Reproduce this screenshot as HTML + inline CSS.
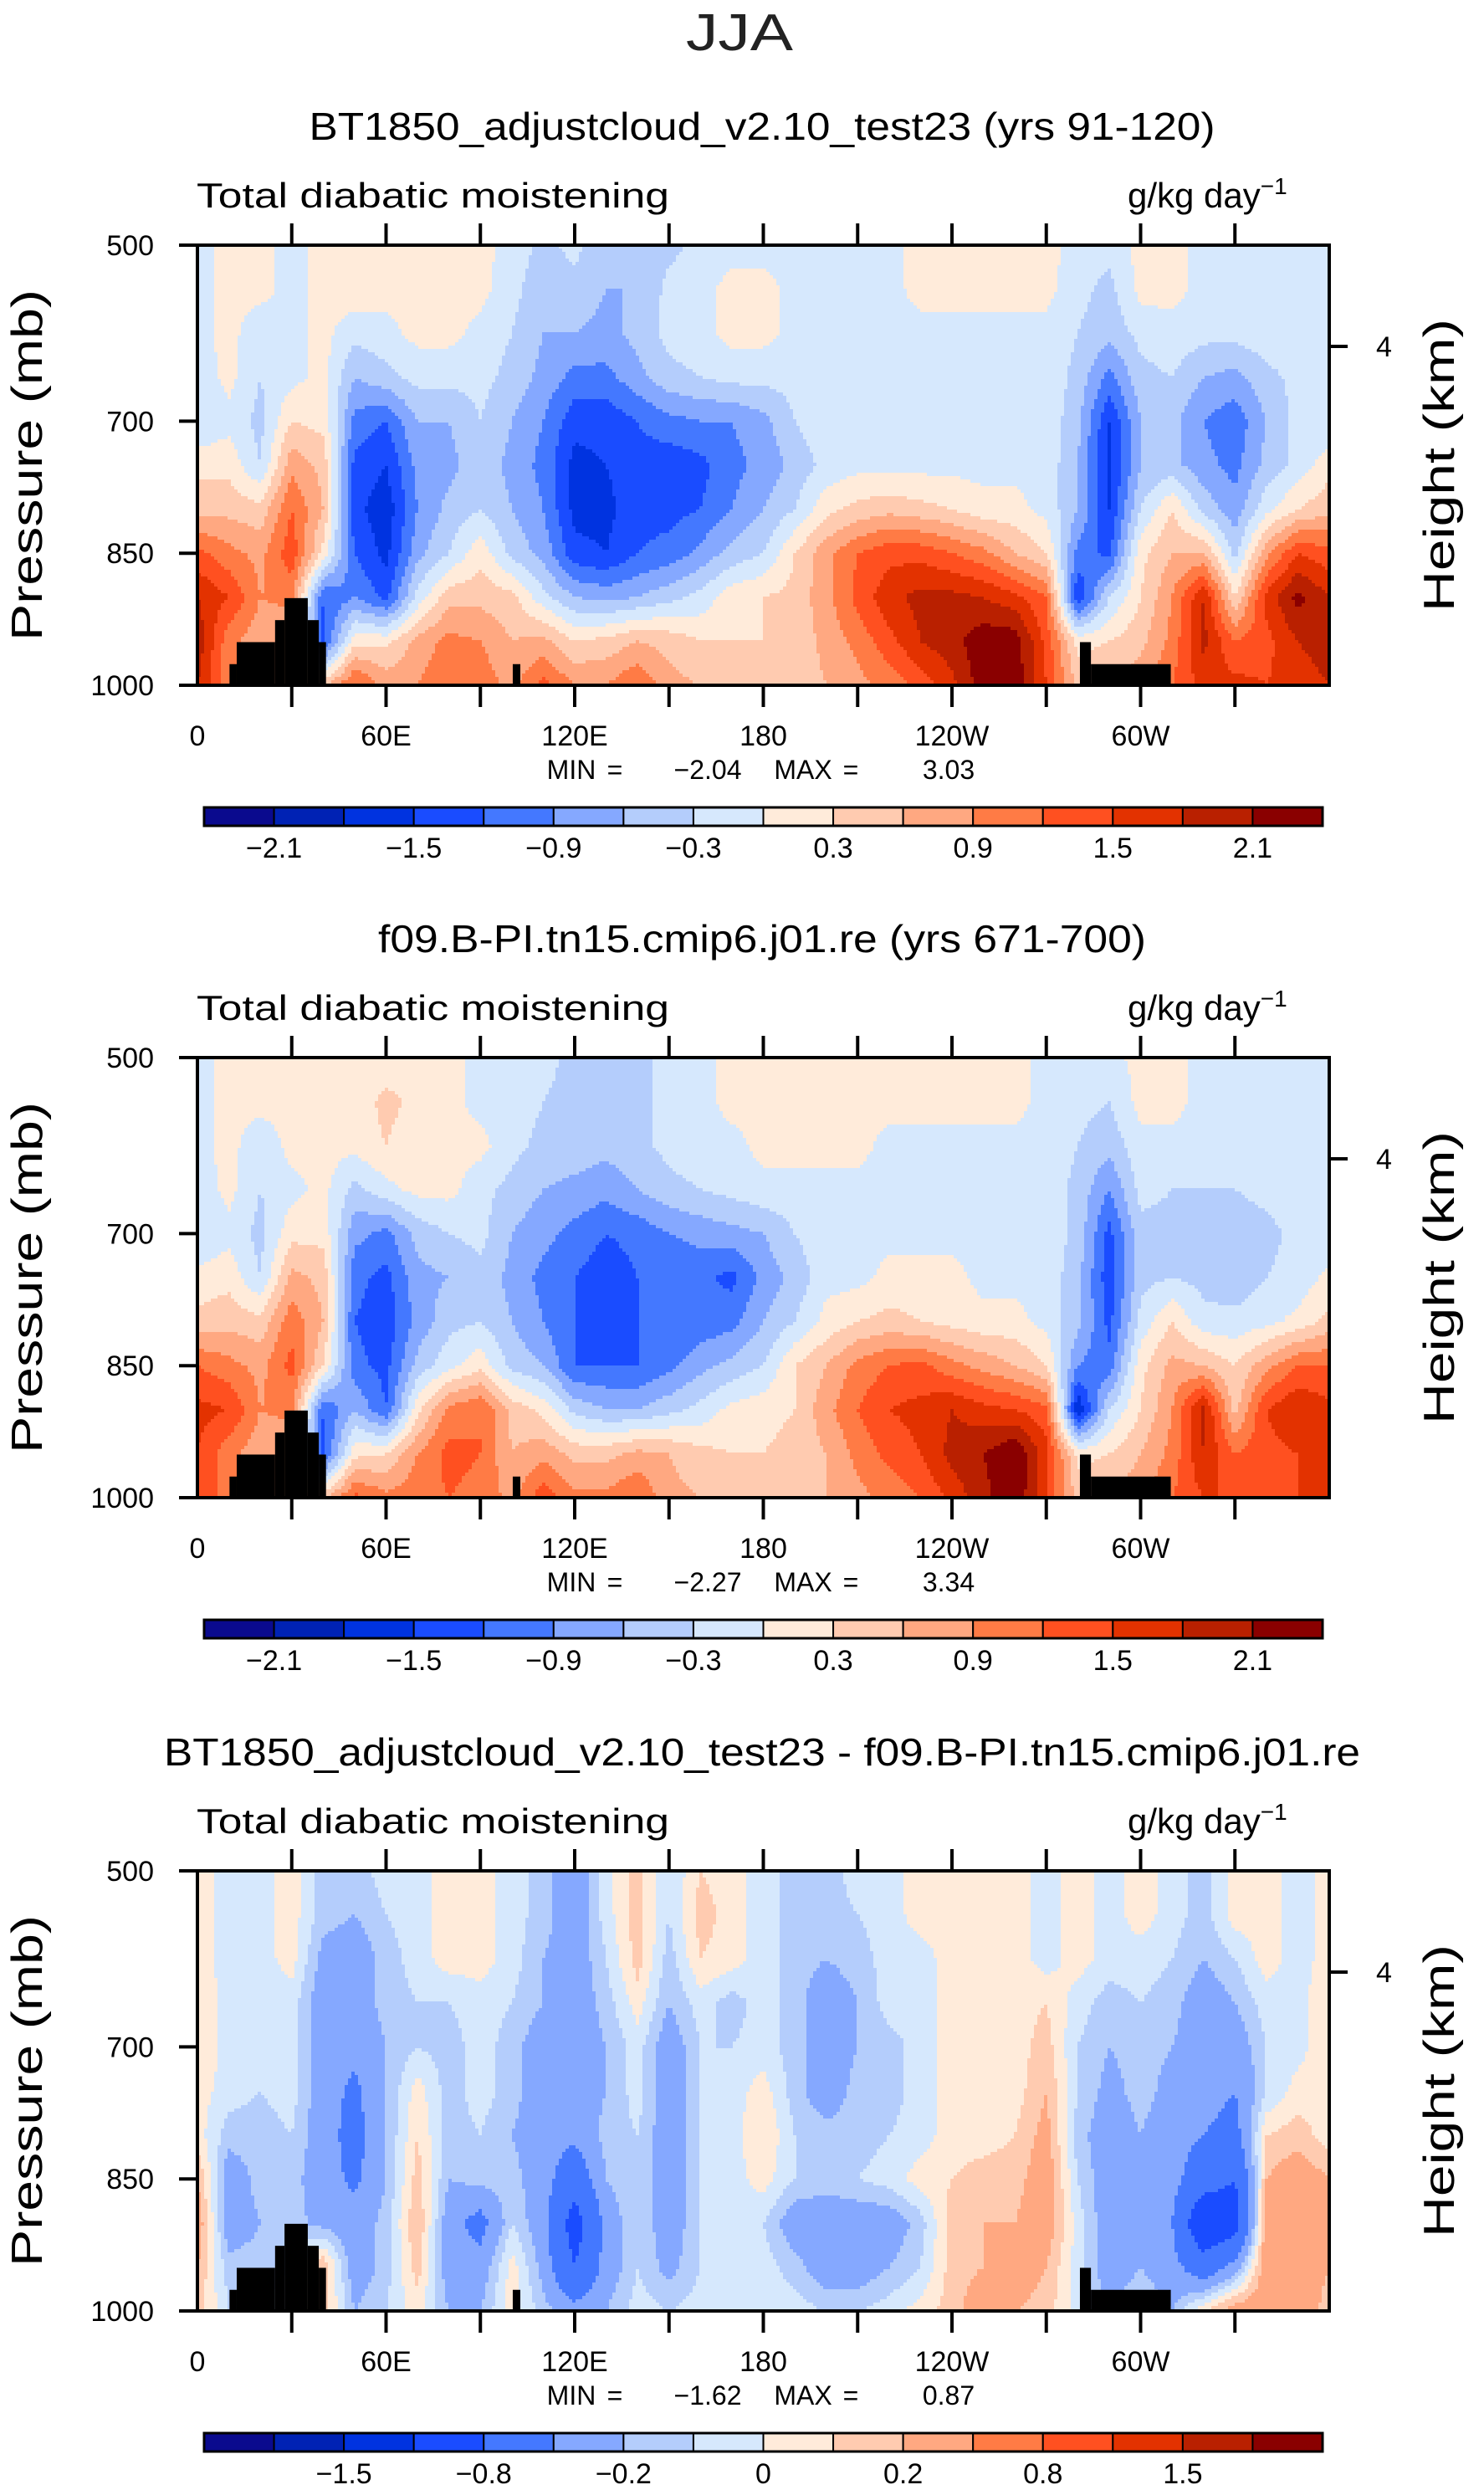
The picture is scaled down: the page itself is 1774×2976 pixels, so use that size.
<!DOCTYPE html>
<html><head><meta charset="utf-8"><style>
html,body{margin:0;padding:0;background:#fff;}
svg{display:block;font-family:"Liberation Sans",sans-serif;}
</style></head><body>
<svg id="chart" width="1774" height="2976" viewBox="0 0 1774 2976" xmlns="http://www.w3.org/2000/svg">
<text x="884" y="60" font-size="62" text-anchor="middle" fill="#222" font-weight="normal" textLength="128" lengthAdjust="spacingAndGlyphs">JJA</text>
</svg>
<script>
// ---- data ----
const lons = [0,10,20,30,40,50,60,70,80,90,100,110,120,130,140,150,160,170,180,190,200,210,220,230,240,250,260,270,280,290,300,310,320,330,340,350];
const pressures = [500,550,600,650,700,750,800,850,900,950,1000];
const titles = ["BT1850_adjustcloud_v2.10_test23 (yrs 91-120)","f09.B-PI.tn15.cmip6.j01.re (yrs 671-700)","BT1850_adjustcloud_v2.10_test23 - f09.B-PI.tn15.cmip6.j01.re"];
const minVals = ["\u22122.04","\u22122.27","\u22121.62"];
const maxVals = ["3.03","3.34","0.87"];
const levelsAbs = [-2.1,-1.8,-1.5,-1.2,-0.9,-0.6,-0.3,0,0.3,0.6,0.9,1.2,1.5,1.8,2.1];
const levelsDiff = [-2,-1.5,-1.2,-0.8,-0.4,-0.2,-0.1,0,0.1,0.2,0.4,0.8,1.2,1.5,2];
const cbLabelsAbs = ["\u22122.1","\u22121.5","\u22120.9","\u22120.3","0.3","0.9","1.5","2.1"];
const cbLabelIdxAbs = [1,3,5,7,9,11,13,15];
const cbLabelsDiff = ["\u22121.5","\u22120.8","\u22120.2","0","0.2","0.8","1.5"];
const cbLabelIdxDiff = [2,4,6,8,10,12,14];
const palette = ["#0a0a8e","#0022b4","#0033e0","#1a4cff","#4478ff","#85a8ff","#b4cdfc","#d6e8fd","#ffebda","#ffcbb0","#ffa881","#ff7b45","#ff5020","#e33200","#b92000","#8a0000"];
const xTickLabels = ["0","60E","120E","180","120W","60W"];
const xTickLons = [0,60,120,180,240,300];
const yTickLabels = ["500","700","850","1000"];
const yTickP = [500,700,850,1000];
const topoLon0 = [10.2,12.5,24.7,27.7,35.1,38.6,100.3,280.7,284.2];
const topoLon1 = [12.5,24.7,27.7,35.1,38.6,40.9,102.7,284.2,309.6];
const topoP = [976,951,926,901,926,951,976,951,976];

const field1 = [
[-0.1,0.1,0.1,-0.1,0.1,0.1,0.1,0.1,0.1,0.1,-0.1,-0.4,-0.2,-0.6,-0.5,-0.4,-0.2,-0.1,-0.1,-0.1,-0.1,-0.1,-0.1,0.1,0.1,0.1,0.1,0.1,-0.1,-0.2,0.1,0.1,-0.1,-0.1,-0.1,-0.1],
[-0.1,0.1,0.1,-0.1,0.1,0.2,0.1,0.1,0.1,0.1,-0.2,-0.5,-0.4,-0.6,-0.6,-0.2,-0.1,0.1,0.1,-0.1,-0.1,-0.1,-0.1,0.1,0.1,0.1,0.1,0.1,-0.2,-0.4,0.1,0.1,-0.1,-0.1,-0.1,-0.1],
[-0.1,0.1,-0.2,-0.1,0.1,-0.2,-0.1,0.1,0.1,-0.1,-0.3,-0.6,-0.6,-0.7,-0.5,-0.2,-0.1,0.1,0.1,-0.1,-0.1,-0.1,-0.1,-0.1,-0.1,-0.1,-0.1,-0.1,-0.3,-0.5,-0.2,-0.1,-0.2,-0.2,-0.1,-0.1],
[-0.2,0.1,-0.3,-0.1,0.1,-0.6,-0.4,-0.2,-0.2,-0.2,-0.4,-0.7,-1.0,-1.0,-0.7,-0.4,-0.3,-0.2,-0.2,-0.2,-0.1,-0.1,-0.1,-0.1,-0.1,-0.1,-0.1,-0.1,-0.4,-1.0,-0.4,-0.3,-0.6,-0.7,-0.4,-0.2],
[-0.3,-0.1,-0.4,0.3,0.2,-1.0,-1.2,-0.6,-0.6,-0.3,-0.6,-0.9,-1.4,-1.4,-1.2,-1.0,-0.9,-0.9,-0.7,-0.3,-0.1,-0.1,-0.1,-0.1,-0.1,-0.1,-0.1,-0.1,-0.5,-1.5,-0.6,-0.5,-0.9,-1.1,-0.6,-0.2],
[0.2,0.2,-0.3,0.8,0.5,-1.3,-1.5,-0.8,-0.7,-0.4,-0.7,-1.0,-1.6,-1.5,-1.3,-1.4,-1.3,-1.0,-0.8,-0.5,-0.2,-0.1,-0.1,-0.1,-0.1,-0.1,-0.1,-0.1,-0.6,-1.6,-0.6,-0.5,-0.8,-1.0,-0.5,-0.2],
[0.5,0.5,0.4,1.2,0.6,-1.4,-1.7,-0.9,-0.5,-0.3,-0.6,-0.9,-1.6,-1.6,-1.3,-1.3,-1.2,-0.9,-0.6,-0.3,0.2,0.4,0.5,0.4,0.3,0.1,0.1,-0.1,-0.6,-1.5,-0.3,0.3,-0.4,-0.8,-0.1,0.3],
[1.3,1.0,0.8,1.4,0.2,-1.2,-1.6,-0.7,-0.3,0.2,-0.4,-0.7,-1.4,-1.5,-1.2,-1.1,-0.8,-0.5,-0.3,0.3,0.8,1.2,1.4,1.4,1.2,1.0,0.6,0.3,-1.0,-1.3,0.2,0.6,0.6,-0.4,0.8,1.5],
[1.8,1.5,0.9,1.0,-1.2,-0.9,-1.3,-0.2,0.5,0.5,0.4,-0.2,-0.6,-0.7,-0.6,-0.4,-0.2,0.2,0.3,0.4,0.8,1.3,1.7,1.9,1.9,1.8,1.6,1.2,-1.5,-0.3,0.3,0.9,1.8,0.3,1.6,2.2],
[2.0,1.0,0.7,0.6,-1.3,0.2,0.2,0.7,1.0,0.9,0.6,0.7,0.3,0.4,0.6,0.5,0.3,0.3,0.3,0.4,0.7,1.0,1.4,1.8,2.0,2.3,2.3,1.4,0.2,0.3,0.5,1.0,1.9,1.2,1.4,1.8],
[1.8,1.0,0.9,0.9,0.5,1.3,0.8,0.9,1.2,1.1,0.8,1.3,0.9,0.9,1.2,0.7,0.6,0.5,0.4,0.4,0.6,0.8,1.0,1.3,1.7,2.3,2.3,1.5,0.5,0.6,0.8,1.2,1.6,1.6,1.5,1.6]];
const field2 = [
[-0.1,0.1,0.1,0.1,0.1,0.1,0.1,0.1,0.1,-0.1,-0.1,-0.2,-0.4,-0.5,-0.4,-0.2,-0.1,0.1,0.1,0.1,0.1,0.1,0.1,0.1,0.1,0.1,0.1,-0.1,-0.2,-0.1,0.1,0.1,-0.1,-0.1,-0.1,-0.1],
[-0.1,0.1,0.1,0.1,0.1,0.1,0.4,0.2,0.1,-0.1,-0.1,-0.3,-0.4,-0.6,-0.4,-0.2,-0.1,0.1,0.1,0.1,0.1,0.1,0.1,0.1,0.1,0.1,0.1,-0.1,-0.2,-0.3,0.1,0.1,-0.1,-0.1,-0.1,-0.1],
[-0.1,0.1,-0.2,0.1,0.1,0.1,0.3,0.1,0.1,0.1,-0.2,-0.4,-0.4,-0.5,-0.4,-0.2,-0.1,-0.1,0.1,0.1,0.1,0.1,-0.1,-0.1,-0.1,-0.1,-0.1,-0.1,-0.3,-0.5,-0.1,-0.1,-0.1,-0.1,-0.1,-0.1],
[-0.2,0.1,-0.3,-0.1,0.1,-0.4,-0.1,0.1,0.1,-0.2,-0.4,-0.6,-0.7,-0.8,-0.6,-0.4,-0.3,-0.2,-0.1,-0.1,-0.1,-0.1,-0.1,-0.1,-0.1,-0.1,-0.1,-0.1,-0.4,-0.9,-0.2,-0.3,-0.3,-0.3,-0.2,-0.1],
[-0.3,-0.1,-0.4,0.2,0.2,-0.8,-1.0,-0.5,-0.3,-0.2,-0.6,-0.8,-1.0,-1.2,-1.1,-0.9,-0.8,-0.7,-0.6,-0.3,-0.1,-0.1,-0.1,-0.1,-0.1,-0.1,-0.1,-0.1,-0.4,-1.3,-0.4,-0.4,-0.4,-0.5,-0.4,-0.2],
[0.1,0.2,-0.3,0.7,0.5,-1.1,-1.3,-0.7,-0.6,-0.4,-0.7,-1.0,-1.2,-1.4,-1.2,-1.2,-1.1,-1.3,-0.8,-0.5,-0.1,-0.1,0.1,0.1,0.1,-0.1,-0.1,-0.1,-0.5,-1.4,-0.4,-0.3,-0.4,-0.5,-0.3,-0.2],
[0.4,0.5,0.4,1.1,0.6,-1.2,-1.4,-0.8,-0.4,-0.3,-0.6,-0.9,-1.2,-1.4,-1.2,-1.2,-1.1,-1.0,-0.6,-0.3,0.1,0.3,0.4,0.3,0.2,0.1,0.1,-0.1,-0.5,-1.3,-0.2,0.3,-0.2,-0.2,-0.1,0.1],
[1.2,1.0,0.8,1.3,0.3,-1.1,-1.3,-0.5,-0.1,0.2,-0.4,-0.6,-1.2,-1.2,-1.2,-1.0,-0.7,-0.5,-0.3,0.3,0.6,1.0,1.2,1.3,1.0,0.8,0.6,0.3,-0.9,-1.1,0.2,0.7,0.6,0.3,0.8,1.2],
[1.6,1.5,0.9,1.0,-1.2,-0.6,-1.2,0.2,1.0,1.2,0.5,0.2,-0.4,-0.6,-0.6,-0.4,-0.2,0.1,0.2,0.3,0.8,1.2,1.5,1.6,1.8,1.6,1.5,1.3,-1.8,-0.3,0.3,0.9,1.9,0.5,1.5,1.8],
[1.5,1.0,0.7,0.6,-1.3,0.2,0.3,0.9,1.3,1.2,0.6,0.8,0.5,0.5,0.7,0.6,0.4,0.3,0.3,0.4,0.6,1.0,1.3,1.5,1.9,2.1,2.4,1.6,0.2,0.3,0.6,1.0,1.8,1.2,1.4,1.5],
[1.5,1.0,0.9,0.9,0.5,1.3,1.0,1.1,1.2,1.1,0.8,1.4,1.0,1.0,1.2,0.7,0.6,0.5,0.4,0.4,0.6,0.8,1.0,1.2,1.6,2.0,2.4,1.5,0.5,0.6,0.8,1.2,1.5,1.5,1.5,1.5]];
const field3 = [
[0.05,-0.05,-0.05,0.05,-0.15,-0.15,-0.05,-0.05,0.05,0.05,-0.05,-0.15,-0.3,-0.05,0.15,-0.1,0.1,0.05,-0.05,-0.15,-0.15,-0.05,-0.05,0.05,0.05,0.05,0.05,-0.05,0.05,-0.05,0.05,-0.05,-0.15,0.05,0.05,-0.05],
[0.05,-0.05,-0.05,0.05,-0.15,-0.2,-0.1,-0.05,0.05,0.05,-0.05,-0.15,-0.3,-0.05,0.15,-0.1,0.15,0.05,-0.05,-0.15,-0.15,-0.1,-0.05,0.05,0.05,0.05,0.05,-0.05,0.05,-0.05,0.05,-0.05,-0.15,0.05,0.05,-0.05],
[0.05,-0.05,-0.05,0.05,-0.25,-0.3,-0.15,-0.05,0.05,0.05,-0.05,-0.2,-0.3,-0.1,0.15,-0.15,0.1,0.05,-0.05,-0.15,-0.2,-0.15,-0.05,-0.05,0.05,0.05,0.05,-0.05,0.05,-0.05,-0.05,-0.1,-0.2,-0.1,0.05,-0.05],
[0.1,-0.05,-0.1,-0.05,-0.3,-0.3,-0.15,-0.1,-0.1,-0.05,-0.1,-0.2,-0.3,-0.15,0.05,-0.2,-0.05,-0.15,-0.05,-0.15,-0.3,-0.2,-0.05,-0.05,0.05,0.05,0.05,0.1,-0.05,-0.15,-0.1,-0.15,-0.3,-0.2,-0.05,-0.05],
[0.1,-0.05,-0.1,-0.05,-0.3,-0.35,-0.2,-0.1,-0.15,-0.05,-0.15,-0.3,-0.3,-0.2,-0.05,-0.3,-0.1,-0.1,-0.05,-0.15,-0.3,-0.2,-0.15,-0.05,0.05,0.05,0.05,0.15,-0.1,-0.2,-0.15,-0.2,-0.3,-0.3,-0.1,-0.05],
[0.05,-0.05,-0.1,-0.05,-0.3,-0.45,-0.2,0.05,-0.15,-0.05,-0.15,-0.3,-0.3,-0.2,-0.05,-0.3,-0.1,-0.05,0.05,-0.15,-0.3,-0.15,-0.15,-0.05,0.05,0.05,0.05,0.2,-0.1,-0.25,-0.15,-0.25,-0.3,-0.4,-0.1,0.05],
[0.05,-0.15,-0.15,-0.1,-0.3,-0.5,-0.2,0.1,-0.15,-0.1,-0.2,-0.3,-0.35,-0.15,-0.1,-0.3,-0.1,-0.05,0.1,-0.1,-0.15,-0.15,-0.1,-0.05,0.05,0.05,0.1,0.25,-0.15,-0.3,-0.2,-0.3,-0.4,-0.5,0.1,0.15],
[0.2,-0.3,-0.15,-0.15,-0.3,-0.45,-0.2,0.15,-0.2,-0.15,-0.15,-0.3,-0.6,-0.2,-0.1,-0.3,-0.1,-0.05,0.05,-0.1,-0.15,-0.1,-0.05,0.05,0.1,0.15,0.15,0.3,-0.1,-0.3,-0.2,-0.3,-0.6,-0.8,0.2,0.3],
[0.3,-0.3,-0.2,-0.15,-0.25,-0.3,-0.15,0.2,-0.3,-0.5,-0.1,-0.3,-1.0,-0.3,-0.1,-0.3,-0.1,-0.05,-0.1,-0.3,-0.3,-0.3,-0.3,-0.15,0.15,0.2,0.2,0.3,-0.05,-0.3,-0.2,-0.4,-1.2,-1.0,0.3,0.35],
[0.2,-0.15,-0.15,-0.1,0.2,-0.3,-0.15,0.15,-0.3,-0.3,0.05,-0.25,-0.8,-0.3,-0.1,-0.25,-0.1,-0.05,-0.05,-0.15,-0.3,-0.3,-0.2,-0.1,0.15,0.2,0.3,0.2,-0.05,-0.3,-0.2,-0.3,-0.6,-0.3,0.3,0.3],
[0.15,-0.1,-0.1,-0.05,0.15,-0.2,-0.1,0.05,-0.2,-0.2,0.05,-0.15,-0.3,-0.2,-0.05,-0.1,-0.05,-0.05,-0.05,-0.05,-0.1,-0.1,-0.05,0.05,0.15,0.3,0.2,0.15,-0.05,-0.2,-0.1,-0.2,0.1,0.3,0.3,0.3]];

// ---- layout ----
const svg = document.getElementById('chart');
const NS = "http://www.w3.org/2000/svg";
const PL = 236, PR = 1589, PW = PR - PL, PH = 526;
const panelTops = [293, 1264, 2236];
function mk(tag, attrs, parent){ const e=document.createElementNS(NS,tag); for(const k in attrs) e.setAttribute(k,attrs[k]); (parent||svg).appendChild(e); return e; }
function xScale(lon){ return PL + lon/360*PW; }
function yScaleFor(top){ return p => top + (p-500)/500*PH; }
function sample(field, lon, p){
  const fi = lon/10; let i0 = Math.floor(fi); const tx = fi - i0; i0 = ((i0%36)+36)%36; const i1 = (i0+1)%36;
  let fj = (p-500)/50; fj = Math.max(0, Math.min(10, fj)); let j0 = Math.min(9, Math.floor(fj)); const ty = fj - j0; const j1 = j0+1;
  const a = field[j0][i0]*(1-tx)+field[j0][i1]*tx, b = field[j1][i0]*(1-tx)+field[j1][i1]*tx;
  return a*(1-ty)+b*ty;
}
function colorIdx(v, lv){ let k=0; while(k<lv.length && v>=lv[k]) k++; return k; }

const fields = [field1, field2, field3];
const levelSets = [levelsAbs, levelsAbs, levelsDiff];
const cbLabelSets = [cbLabelsAbs, cbLabelsAbs, cbLabelsDiff];
const cbIdxSets = [cbLabelIdxAbs, cbLabelIdxAbs, cbLabelIdxDiff];

panelTops.forEach((top, pi) => {
  const g = mk('g', {});
  
  
  const y = yScaleFor(top);
  const field = fields[pi], lv = levelSets[pi];
  const t = mk('text', {x: 911, y: top-126, 'font-size': 46, 'text-anchor': 'middle', fill: '#000', textLength: pi===2?1430:(pi===0?1083:918), lengthAdjust:'spacingAndGlyphs'}, g);
  t.textContent = titles[pi];
  
  
  const l1 = mk('text', {x: 235, y: top-45, 'font-size': 42, fill: '#000', textLength: 565, lengthAdjust:'spacingAndGlyphs'}, g);
  l1.textContent = 'Total diabatic moistening';
  
  
  const l2 = mk('text', {x: 1348, y: top-45, 'font-size': 42, fill: '#000'}, g);
  l2.innerHTML = 'g/kg day<tspan dy="-16" font-size="28">\u22121</tspan>';
  
  
  // contour field
  const fg = mk('g', {'shape-rendering':'crispEdges'}, g);
  
  
  const step = 4;
  for (let py = top; py < top+PH; py += step) {
    const p = 500 + (py + step/2 - top)/PH*500;
    const hh = Math.min(step, top+PH-py);
    let runStart = PL, runCol = -1;
    for (let px = PL; px < PR; px += step) {
      const lon = (px + step/2 - PL)/PW*360;
      const c = colorIdx(sample(field, Math.min(lon, 359.9), p), lv);
      if (c !== runCol) {
        if (runCol >= 0) {
          const r = mk('rect', {x: runStart, y: py, width: px-runStart, height: hh, fill: palette[runCol]}, fg);
          
          
        }
        runStart = px; runCol = c;
      }
    }
    if (runCol >= 0) {
      const r = mk('rect', {x: runStart, y: py, width: PR-runStart, height: hh, fill: palette[runCol]}, fg);
      
      
    }
  }
  // topography
  topoP.forEach((tp, k) => {
    const r = mk('rect', {x: xScale(topoLon0[k]), y: y(tp), width: xScale(topoLon1[k])-xScale(topoLon0[k]), height: y(1000)-y(tp)+1, fill: '#000'}, g);
    
    
  });
  const fr = mk('rect', {x: PL, y: top, width: PW, height: PH, fill: 'none', stroke: '#000', 'stroke-width': 4}, g);
  
  
  for (let lon = 30; lon < 360; lon += 30) {
    mk('line', {x1: xScale(lon), x2: xScale(lon), y1: top, y2: top-26, stroke: '#000', 'stroke-width': 4}, g);
    mk('line', {x1: xScale(lon), x2: xScale(lon), y1: top+PH, y2: top+PH+26, stroke: '#000', 'stroke-width': 4}, g);
  }
  xTickLabels.forEach((lab, k) => {
    const tx = mk('text', {x: xScale(xTickLons[k]), y: top+PH+72, 'font-size': 34, 'text-anchor': 'middle', fill: '#000'}, g);
    tx.textContent = lab;
    
    
  });
  yTickLabels.forEach((lab, k) => {
    mk('line', {x1: PL-22, x2: PL, y1: y(yTickP[k]), y2: y(yTickP[k]), stroke: '#000', 'stroke-width': 4}, g);
    const tx = mk('text', {x: 184, y: y(yTickP[k])+12, 'font-size': 34, 'text-anchor': 'end', fill: '#000'}, g);
    tx.textContent = lab;
    
    
  });
  const yt = mk('text', {x: 0, y: 0, 'font-size': 52, 'text-anchor': 'middle', fill: '#000', transform: `translate(50 ${top+PH/2}) rotate(-90)`, textLength: 420, lengthAdjust:'spacingAndGlyphs'}, g);
  yt.textContent = 'Pressure (mb)';
  
  
  mk('line', {x1: PR, x2: PR+22, y1: y(615), y2: y(615), stroke: '#000', 'stroke-width': 4}, g);
  const rt = mk('text', {x: 1645, y: y(615)+12, 'font-size': 34, fill: '#000'}, g);
  rt.textContent = '4';
  
  
  const ht = mk('text', {x: 0, y: 0, 'font-size': 52, 'text-anchor': 'middle', fill: '#000', transform: `translate(1738 ${top+PH/2}) rotate(-90)`, textLength: 350, lengthAdjust:'spacingAndGlyphs'}, g);
  ht.textContent = 'Height (km)';
  
  
  const mm = [['MIN',683],['=',735],[minVals[pi],846],['MAX',960],['=',1017],[maxVals[pi],1134]];
  mm.forEach(([s,x]) => {
    const tx = mk('text', {x: x, y: top+PH+112, 'font-size': 32, 'text-anchor': 'middle', fill: '#000'}, g);
    tx.textContent = s;
    
    
  });
  const cbTop = top + 672, cbL = 244, cbR = 1581, cbW = (cbR-cbL)/16;
  for (let k = 0; k < 16; k++) {
    const r = mk('rect', {x: cbL + k*cbW, y: cbTop, width: cbW, height: 22, fill: palette[k], stroke: '#000', 'stroke-width': 2}, g);
    
    
  }
  mk('rect', {x: cbL, y: cbTop, width: cbR-cbL, height: 22, fill: 'none', stroke: '#000', 'stroke-width': 3}, g);
  cbLabelSets[pi].forEach((lab, k) => {
    const tx = mk('text', {x: cbL + cbIdxSets[pi][k]*cbW, y: cbTop+60, 'font-size': 34, 'text-anchor': 'middle', fill: '#000'}, g);
    tx.textContent = lab;
    
    
  });
});
</script>
</body></html>
